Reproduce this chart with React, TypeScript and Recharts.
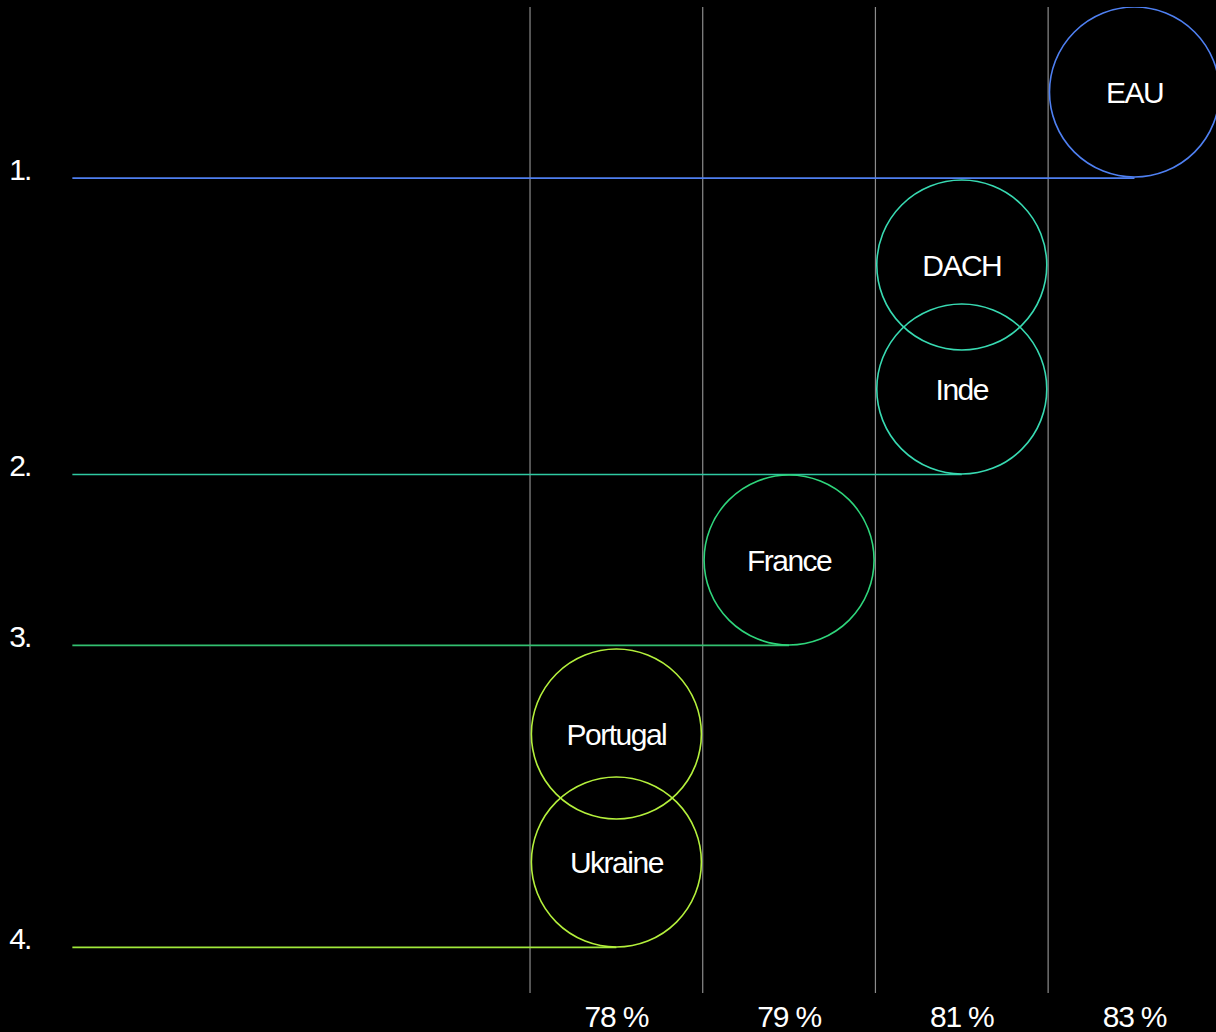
import React from 'react';
import { ComposedChart, Scatter, XAxis, YAxis, ReferenceLine } from 'recharts';

// columns (x index 0..3) and their labels
const columnLabels = ['78 %', '79 %', '81 %', '83 %'];
const columnTicks = [0, 1, 2, 3];
const columnBounds = [-0.5, 0.5, 1.5, 2.5];

// countries: column + vertical level (1 unit = one circle diameter)
const countryNames = ['EAU', 'DACH', 'Inde', 'France', 'Portugal', 'Ukraine'];
const countryColumn = [3, 2, 2, 1, 0, 0];
const countryLevel = [5.254, 4.245, 3.522, 2.525, 1.51, 0.764];
const countryColor = ['#4f80f2', '#38dab2', '#38dab2', '#2fd67c', '#b4f03c', '#b4f03c'];

// rank rows
const rankLabels = ['1.', '2.', '3.', '4.'];
const rankLevel = [4.752, 3.024, 2.027, 0.266];
const rankEnd = [3, 2, 1, 0];
const rankColor = ['#4f7ff0', '#2fc9a2', '#33c070', '#a0e83a'];
const rankStart = -3.15;
const rankLabelX = -3.515;

const FONT = '"Liberation Sans", Arial, sans-serif';

const countryData = countryNames.map((name, i) => ({
  name,
  x: countryColumn[i],
  y: countryLevel[i],
  color: countryColor[i],
}));

const rankData = rankLabels.map((label, i) => ({
  name: label,
  x: rankLabelX,
  y: rankLevel[i],
}));

const Bubble = (props: any) => {
  const { cx, cy, payload } = props;
  return (
    <g>
      <circle cx={cx} cy={cy} r={85} fill="none" stroke={payload.color} strokeWidth={1.6} />
      <text
        x={cx}
        y={cy}
        dy="0.36em"
        textAnchor="middle"
        fill="#fff"
        fontSize={30}
        fontFamily={FONT}
        letterSpacing={-1.5}
      >
        {payload.name}
      </text>
    </g>
  );
};

const RankLabel = (props: any) => {
  const { cx, cy, payload } = props;
  return (
    <text x={cx} y={cy + 2} textAnchor="start" fill="#fff" fontSize={30} fontFamily={FONT} letterSpacing={-2}>
      {payload.name}
    </text>
  );
};

const ColumnTick = (props: any) => {
  const { x, y, payload } = props;
  return (
    <text x={x} y={y + 26} textAnchor="middle" fill="#fff" fontSize={30} fontFamily={FONT} letterSpacing={-1.2}>
      {columnLabels[payload.value]}
    </text>
  );
};

export default function App() {
  return (
    <div style={{ position: 'absolute', top: 0, left: 0, width: 1216, height: 1032, background: '#000' }}>
      <ComposedChart width={1216} height={1032} margin={{ top: 7, right: 0, left: 0, bottom: 0 }}>
        <XAxis
          type="number"
          dataKey="x"
          domain={[-3.569, 3.472]}
          allowDataOverflow
          ticks={columnTicks}
          interval={0}
          axisLine={false}
          tickLine={false}
          tick={<ColumnTick />}
          height={39}
        />
        <YAxis type="number" dataKey="y" domain={[0, 5.75]} allowDataOverflow hide />
        {columnBounds.map((b) => (
          <ReferenceLine key={`b-${b}`} x={b} stroke="#8c8c8c" strokeWidth={1.2} />
        ))}
        {rankLabels.map((r, i) => (
          <ReferenceLine
            key={`r-${r}`}
            segment={[
              { x: rankStart, y: rankLevel[i] },
              { x: rankEnd[i], y: rankLevel[i] },
            ]}
            stroke={rankColor[i]}
            strokeWidth={1.6}
          />
        ))}
        <Scatter data={countryData} dataKey="y" shape={<Bubble />} isAnimationActive={false} />
        <Scatter data={rankData} dataKey="y" shape={<RankLabel />} isAnimationActive={false} />
      </ComposedChart>
    </div>
  );
}
